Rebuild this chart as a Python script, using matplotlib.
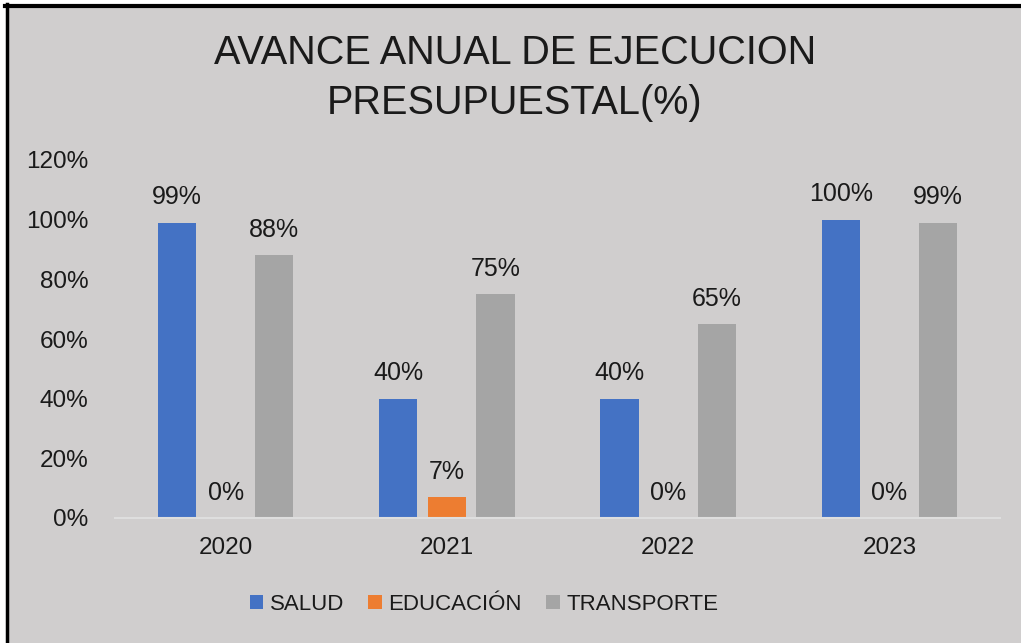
import numpy as np
import matplotlib.pyplot as plt
from matplotlib.patches import Rectangle

years = ['2020', '2021', '2022', '2023']
salud = [0.99, 0.40, 0.40, 1.00]
educacion = [0.00, 0.07, 0.00, 0.00]
transporte = [0.88, 0.75, 0.65, 0.99]
series_names = ['SALUD', 'EDUCACIÓN', 'TRANSPORTE']
colors = ['#4472C4', '#ED7D31', '#A5A5A5']
ytick_vals = [0, 0.2, 0.4, 0.6, 0.8, 1.0, 1.2]

plt.rcParams['font.family'] = ['Liberation Sans', 'DejaVu Sans']
bg = '#D0CECE'
txt = '#1a1a1a'

W, H = 1021, 643
fig = plt.figure(figsize=(W / 100, H / 100), dpi=100)
fig.patch.set_facecolor('white')
# gray chart area with black top/left border
fig.patches.append(Rectangle((8 / W, 0), 1, 1 - 7 / H, transform=fig.transFigure,
                             facecolor=bg, edgecolor='none', zorder=-10))
fig.add_artist(plt.Line2D([6.5 / W, 6.5 / W], [0, 1 - 4 / H], color='black', lw=2.5,
                          transform=fig.transFigure))
fig.add_artist(plt.Line2D([5 / W, 1], [1 - 5.5 / H, 1 - 5.5 / H], color='black', lw=3,
                          transform=fig.transFigure))

ax = fig.add_axes([115 / W, 1 - 518 / H, 885 / W, (518 - 160) / H])
ax.patch.set_alpha(0)

x = np.arange(len(years))
w = 0.173
off = 0.22
for i, (vals, name, c) in enumerate(zip([salud, educacion, transporte], series_names, colors)):
    pos = x + (i - 1) * off
    ax.bar(pos, vals, width=w, color=c, label=name, zorder=2)
    for p, v in zip(pos, vals):
        ax.text(p, v + 0.045, f'{round(v * 100):.0f}%', ha='center', va='bottom',
                fontsize=18, color=txt)

ax.set_xlim(-0.5, 3.5)
ax.set_ylim(0, 1.2)
ax.set_yticks(ytick_vals)
ax.set_yticklabels([f'{round(v * 100)}%' for v in ytick_vals], fontsize=17.5, color=txt)
ax.set_xticks(x)
ax.set_xticklabels(years, fontsize=17.5, color=txt)
ax.tick_params(length=0)
ax.tick_params(axis='y', pad=19)
ax.tick_params(axis='x', pad=14)
for s in ['top', 'right', 'left']:
    ax.spines[s].set_visible(False)
ax.spines['bottom'].set_color('#DEDEDE')
ax.spines['bottom'].set_linewidth(1.5)

fig.text(515 / W, 1 - 78 / H, 'AVANCE ANUAL DE EJECUCION\nPRESUPUESTAL(%)', ha='center',
         va='center', fontsize=28.5, color=txt, linespacing=1.4)

fig.legend(loc='center', bbox_to_anchor=(484 / W, 1 - 604 / H), ncol=3, frameon=False,
           fontsize=16, handlelength=0.6, handleheight=0.6, handletextpad=0.3,
           columnspacing=1.1, labelcolor=txt)

fig.savefig('out.png', dpi=100)
